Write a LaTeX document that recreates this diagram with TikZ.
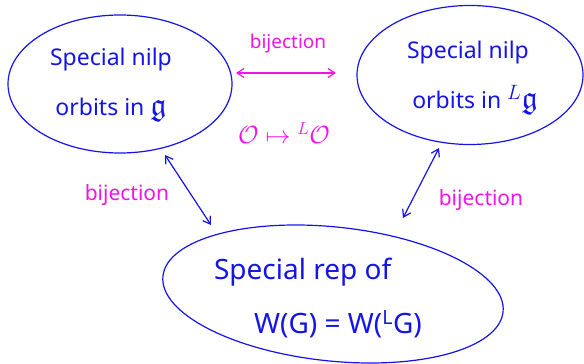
\documentclass[tikz,border=0pt]{standalone}
\usepackage{amssymb}
\usepackage{fontspec}
\setmainfont{Noto Sans}
\usetikzlibrary{shapes.geometric,arrows.meta}
\definecolor{pen}{RGB}{20,20,230}
\definecolor{mag}{RGB}{240,20,230}
\tikzset{
  x=1pt,y=-1pt,
  blob/.style={draw=pen,line width=1.2pt,ellipse,inner sep=0pt},
  blue txt/.style={text=pen,font=\fontsize{23}{50}\selectfont,align=center},
  mag txt/.style={text=mag,font=\fontsize{19}{22}\selectfont},
  bij/.style={{Straight Barb[length=7pt,width=9pt]}-{Straight Barb[length=7pt,width=9pt]},line width=1.2pt},
}
\begin{document}
\begin{tikzpicture}
\useasboundingbox (0,0) rectangle (584,364);
\node[blob,minimum width=224pt,minimum height=138pt] (L) at (120,84) {};
\node[blob,minimum width=226pt,minimum height=139pt] (R) at (470,75) {};
\node[blob,minimum width=342pt,minimum height=134pt,rotate=-6] (B) at (333,294) {};
\node[blue txt] (Lt) at (111,85) {Special nilp\\orbits in {\fontsize{32}{30}\selectfont$\mathfrak{g}$}};
\node[blue txt] (Rt) at (468,78) {Special nilp\\\hspace*{14pt}orbits in {\fontsize{32}{30}\selectfont${}^L\mathfrak{g}$}};
\node[blue txt,font=\fontsize{28}{54}\selectfont,align=left] (Bt) at (318,298) {Special rep of\\\hspace*{40pt}W(G) = W(\textsuperscript{L}G)};
\coordinate (t1) at (236,73);
\coordinate (t2) at (336,73);
\draw[mag,bij] (t1) -- (t2);
\node[mag txt] (tb) at (288,44) {bijection};
\node[mag txt,font=\fontsize{24}{24}\selectfont] (map) at (284,133) {$\mathcal{O}\mapsto{}^L\mathcal{O}$};
\coordinate (l1) at (165,155);
\coordinate (l2) at (211,225);
\draw[pen,bij] (l1) -- (l2);
\node[mag txt,font=\fontsize{21}{22}\selectfont] (lb) at (127,195) {bijection};
\coordinate (r1) at (439,148);
\coordinate (r2) at (403,218);
\draw[pen,bij] (r1) -- (r2);
\node[mag txt,font=\fontsize{21}{22}\selectfont] (rb) at (481,200) {bijection};
\end{tikzpicture}
\end{document}
